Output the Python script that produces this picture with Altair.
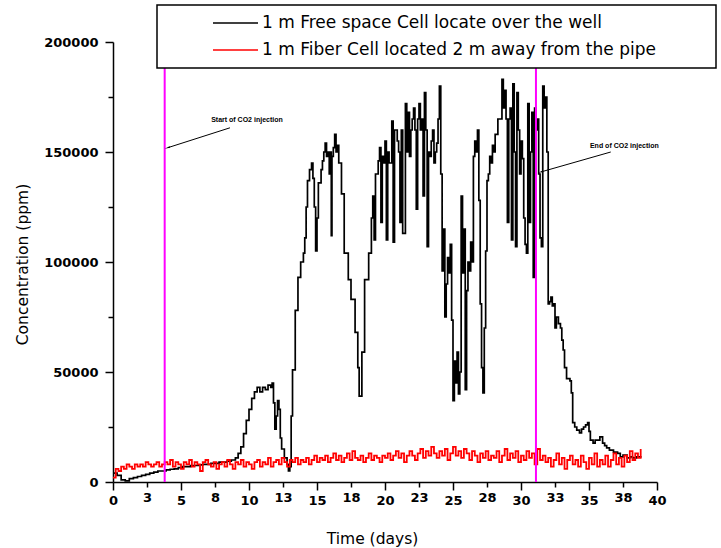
import altair as alt
import pandas as pd

SERIES = ["1 m Free space Cell locate over the well",
          "1 m Fiber Cell located 2 m away from the pipe"]
COLORS = ["#000000", "#ff0000"]

# black series: 1 m free-space cell over the well (day, ppm)
black_day = [
    0.0, 0.3, 0.6, 0.9, 1.2, 1.5, 1.8, 2.1, 2.4, 2.7, 3.0, 3.3, 3.6, 3.9, 4.2, 4.5, 4.8, 5.1, 5.4, 5.7,
    6.0, 6.3, 6.6, 6.9, 7.2, 7.5, 7.8, 8.1, 8.4, 8.7, 9.0, 9.2, 9.4, 9.6, 9.8, 10.0, 10.2, 10.4, 10.6, 10.8,
    11.0, 11.2, 11.4, 11.6, 11.7, 11.8, 11.9, 12.0, 12.1, 12.2, 12.3, 12.4, 12.6, 12.8, 12.9, 13.0, 13.1, 13.2, 13.4, 13.6,
    13.8, 14.0, 14.1, 14.2, 14.3, 14.45, 14.6, 14.7, 14.8, 14.9, 15.0, 15.1, 15.3, 15.4, 15.5, 15.6, 15.7, 15.8, 15.9, 16.0,
    16.05, 16.1, 16.2, 16.3, 16.4, 16.5, 16.6, 16.8, 17.0, 17.3, 17.5, 17.8, 18.0, 18.1, 18.3, 18.5, 18.8, 19.0, 19.1, 19.2,
    19.3, 19.5, 19.6, 19.7, 19.8, 19.9, 20.0, 20.1, 20.2, 20.3, 20.5, 20.6, 20.7, 20.9, 21.0, 21.1, 21.2, 21.3, 21.5, 21.6,
    21.7, 21.8, 21.9, 22.0, 22.1, 22.2, 22.3, 22.4, 22.5, 22.6, 22.7, 22.8, 22.9, 23.0, 23.1, 23.2, 23.3, 23.4, 23.5, 23.6,
    23.7, 23.8, 23.9, 24.0, 24.1, 24.2, 24.3, 24.4, 24.5, 24.6, 24.7, 24.8, 24.9, 25.0, 25.1, 25.2, 25.3, 25.4, 25.5, 25.6,
    25.7, 25.8, 25.9, 26.0, 26.1, 26.2, 26.3, 26.4, 26.5, 26.6, 26.7, 26.8, 26.9, 27.0, 27.1, 27.2, 27.3, 27.4, 27.5, 27.6,
    27.7, 27.8, 27.9, 28.0, 28.1, 28.3, 28.6, 28.7, 28.8, 28.9, 29.0, 29.1, 29.2, 29.3, 29.4, 29.5, 29.6, 29.7, 29.8, 29.9,
    30.0, 30.1, 30.2, 30.3, 30.4, 30.5, 30.6, 30.7, 30.8, 30.9, 31.0, 31.1, 31.2, 31.3, 31.4, 31.5, 31.6, 31.7, 31.8, 31.9,
    32.0, 32.1, 32.2, 32.3, 32.4, 32.5, 32.6, 32.75, 32.9, 33.0, 33.1, 33.2, 33.35, 33.5, 33.6, 33.7, 33.8, 33.95, 34.1, 34.3,
    34.45, 34.6, 34.75, 34.9, 35.0, 35.1, 35.3, 35.45, 35.6, 35.8, 36.0, 36.15, 36.3, 36.5, 36.8, 37.1, 37.3, 37.5, 37.8, 38.0,
    38.2, 38.5, 38.8,
]
black_ppm = [
    4000, 3000, 1000, 500, 1500, 2000, 2500, 3000, 3500, 4000, 4500, 5000, 5000, 5500, 5800, 6000, 6500, 7000, 7000, 7500,
    7500, 7800, 8000, 8000, 8500, 8500, 9000, 9000, 9500, 10000, 11000, 13000, 16000, 22000, 28000, 33000, 38000, 41000, 43000, 41000,
    43000, 42000, 44000, 43000, 45000, 36000, 24000, 30000, 37000, 33000, 20000, 15000, 11000, 8000, 5000, 7000, 30000, 51000, 78000, 93000,
    100000, 104000, 111000, 125000, 137000, 142000, 145000, 138000, 125000, 105000, 120000, 136000, 142000, 146000, 150000, 154000, 148000, 150000, 140000, 150000,
    112000, 148000, 152000, 158000, 150000, 153000, 145000, 131000, 104000, 92000, 83000, 68000, 52000, 39000, 59000, 92000, 104000, 120000, 130000, 110000,
    140000, 146000, 152000, 118000, 148000, 145000, 155000, 110000, 150000, 145000, 164000, 109000, 160000, 155000, 150000, 118000, 160000, 113000, 172000, 150000,
    168000, 148000, 160000, 165000, 170000, 160000, 124000, 165000, 172000, 160000, 165000, 130000, 177000, 160000, 107000, 150000, 148000, 155000, 160000, 145000,
    150000, 154000, 165000, 180000, 140000, 96000, 115000, 75000, 90000, 102000, 95000, 108000, 73600, 37000, 55000, 45000, 59000, 40000, 50000, 130000,
    95000, 115000, 42000, 87000, 100000, 96000, 109000, 100000, 148000, 155000, 150000, 160000, 128000, 81000, 52000, 40500, 70000, 105000, 137000, 140000,
    148000, 145000, 153000, 150000, 158000, 165000, 183000, 170000, 178000, 165000, 118000, 165000, 170000, 110000, 181000, 150000, 107000, 177000, 160000, 140000,
    155000, 147000, 120000, 108000, 104000, 172000, 118000, 150000, 168000, 93000, 170000, 160000, 165000, 140000, 111000, 107000, 180000, 170000, 175000, 150000,
    81000, 82000, 84000, 80000, 81000, 70000, 75000, 72000, 70000, 64500, 60000, 52000, 47000, 47000, 46000, 40500, 27000, 25000, 23600, 22300,
    24000, 25000, 26000, 27000, 23000, 19000, 17700, 19000, 19000, 20500, 17700, 16500, 15500, 14500, 13600, 13000, 11400, 12200, 11000, 11400,
    11000, 11400, 11000,
]

# red series: 1 m fiber cell 2 m from the pipe, one reading every 0.2 day
RED_STEP = 0.2
red_ppm = [
    2000, 6000, 5000, 7000, 6000, 8000, 7000, 6000, 8000, 7000,
    8000, 7000, 9000, 8000, 7000, 8000, 9000, 7000, 8000, 9000,
    8000, 10000, 7000, 9000, 8000, 6000, 9000, 8000, 10000, 7000,
    9000, 8000, 5000, 9000, 10000, 8000, 7000, 9000, 6000, 8000,
    9000, 7000, 10000, 8000, 6000, 9000, 8000, 10000, 7000, 9000,
    8000, 6000, 9000, 10000, 7000, 9000, 8000, 11000, 7000, 9000,
    10000, 8000, 11000, 9000, 7000, 10000, 9000, 11000, 8000, 10000,
    9000, 11000, 8000, 10000, 12000, 9000, 11000, 10000, 12000, 9000,
    11000, 13000, 10000, 12000, 9000, 11000, 13000, 10000, 14000, 11000,
    10000, 12000, 9000, 11000, 13000, 10000, 12000, 11000, 9000, 12000,
    11000, 13000, 10000, 12000, 14000, 11000, 13000, 9000, 12000, 14000,
    12000, 10000, 13000, 15000, 11000, 14000, 12000, 16000, 13000, 11000,
    14000, 12000, 15000, 10000, 13000, 16000, 12000, 14000, 11000, 15000,
    13000, 10000, 14000, 12000, 9000, 13000, 11000, 14000, 10000, 12000,
    11000, 14000, 9000, 12000, 15000, 10000, 13000, 11000, 14000, 9000,
    12000, 10000, 14000, 11000, 13000, 8000, 15000, 10000, 12000, 9000,
    11000, 7000, 10000, 13000, 8000, 11000, 6000, 10000, 12000, 8000,
    10000, 7000, 12000, 9000, 6000, 11000, 8000, 13000, 7000, 10000,
    8000, 12000, 7000, 10000, 13000, 8000, 11000, 7000, 12000, 9000,
    14000, 10000, 13000, 11000, 15000,
]

injection_day = [3.8, 31.1]

note_text = ["Start of CO2 injection", "End of CO2 injection"]
note_day = [9.85, 37.6]
note_ppm = [164500, 152700]
arrow_day_from = [8.6, 36.6]
arrow_ppm_from = [161000, 150000]
arrow_day_to = [4.05, 31.5]
arrow_ppm_to = [152000, 141000]

X_TICKS = [0, 2.5, 5, 7.5, 10, 12.5, 15, 17.5, 20, 22.5, 25, 27.5, 30, 32.5, 35, 37.5, 40]
Y_TICKS = [0, 25000, 50000, 75000, 100000, 125000, 150000, 175000, 200000]

black_df = pd.DataFrame({"day": black_day, "ppm": black_ppm, "series": SERIES[0]})
red_df = pd.DataFrame({"day": [round(i * RED_STEP, 2) for i in range(len(red_ppm))],
                       "ppm": red_ppm, "series": SERIES[1]})
inj_df = pd.DataFrame({"day": injection_day})
note_df = pd.DataFrame({"text": note_text, "day": note_day, "ppm": note_ppm})
arrow_df = pd.DataFrame({"d0": arrow_day_from, "p0": arrow_ppm_from,
                         "d1": arrow_day_to, "p1": arrow_ppm_to})

xscale = alt.Scale(domain=[0, 40], nice=False, zero=False)
yscale = alt.Scale(domain=[0, 200000], nice=False)

x_axis = alt.Axis(
    values=X_TICKS, labelExpr="'' + round(datum.value)", title="Time (days)",
    tickSize={"condition": {"test": "datum.value % 5 === 0", "value": 8}, "value": 5},
    labelPadding=4, labelOverlap=False, labelBound=False, labelFlush=False,
    titleX=259, titleY=56, titleBaseline="middle",
)
y_axis = alt.Axis(
    values=Y_TICKS, format="d", labelOverlap=False,
    labelExpr="datum.value % 50000 === 0 ? datum.label : ''",
    tickSize={"condition": {"test": "datum.value % 50000 === 0", "value": 8}, "value": 5},
    labelPadding=7, title="Concentration (ppm)", titleX=-91, titleY=222,
    titleBaseline="middle", titleAngle=-90,
)


def X(field):
    return alt.X(field, scale=xscale, axis=x_axis)


def Y(field):
    return alt.Y(field, scale=yscale, axis=y_axis)


# blank padding (braille blank is not whitespace, so it is not trimmed) widens the legend box
PAD = "\u2800" * 4
color = alt.Color("series:N", scale=alt.Scale(domain=SERIES, range=COLORS),
                  legend=alt.Legend(title=None, labelExpr="datum.label + '" + PAD + "'"))

black_line = alt.Chart(black_df).mark_line(strokeWidth=1.7, interpolate="step-after").encode(
    x=X("day:Q"), y=Y("ppm:Q"), color=color,
)
red_line = alt.Chart(red_df).mark_line(strokeWidth=1.8, interpolate="step-after").encode(
    x=X("day:Q"), y=Y("ppm:Q"), color=color,
)
inj = alt.Chart(inj_df).mark_rule(color="#ff00ff", strokeWidth=2).encode(
    x=X("day:Q"),
)
arrows = alt.Chart(arrow_df).mark_rule(color="black", strokeWidth=1).encode(
    x=X("d0:Q"), y=Y("p0:Q"), x2="d1:Q", y2="p1:Q",
)
heads = alt.Chart(arrow_df).mark_point(shape="wedge", filled=True, color="black",
                                        size=40, angle=253, opacity=1).encode(
    x=X("d1:Q"), y=Y("p1:Q"),
)
notes = alt.Chart(note_df).mark_text(font="Liberation Sans", fontSize=7, fontWeight="bold",
                                     color="black").encode(
    x=X("day:Q"), y=Y("ppm:Q"), text="text:N",
)

chart = alt.layer(black_line, red_line, inj, arrows, heads, notes).properties(
    width=544, height=440,
    padding={"left": 113, "top": 42, "right": 64, "bottom": 66},
    autosize=alt.AutoSizeParams(type="none"),
).configure_view(stroke="transparent").configure_axis(
    domainColor="black", domainWidth=1.5, tickColor="black", tickWidth=1.5,
    labelFont="DejaVu Sans", labelFontSize=13, labelFontWeight="bold", labelColor="black",
    titleFont="DejaVu Sans", titleFontSize=15.5, titleFontWeight="normal", titleColor="black",
    grid=False, labelOverlap=False,
).configure_legend(
    orient="none", legendX=44, legendY=-37, fillColor="white", strokeColor="black",
    strokeWidth=1.5, padding=10, symbolType="stroke", symbolSize=2025, symbolStrokeWidth=1.5,
    labelFont="DejaVu Sans", labelFontSize=17, labelColor="black", labelLimit=700,
    clipHeight=16, rowPadding=10, symbolOffset=45, labelOffset=3,
)

chart.save("out.html", embed_options={"renderer": "svg", "actions": False})
